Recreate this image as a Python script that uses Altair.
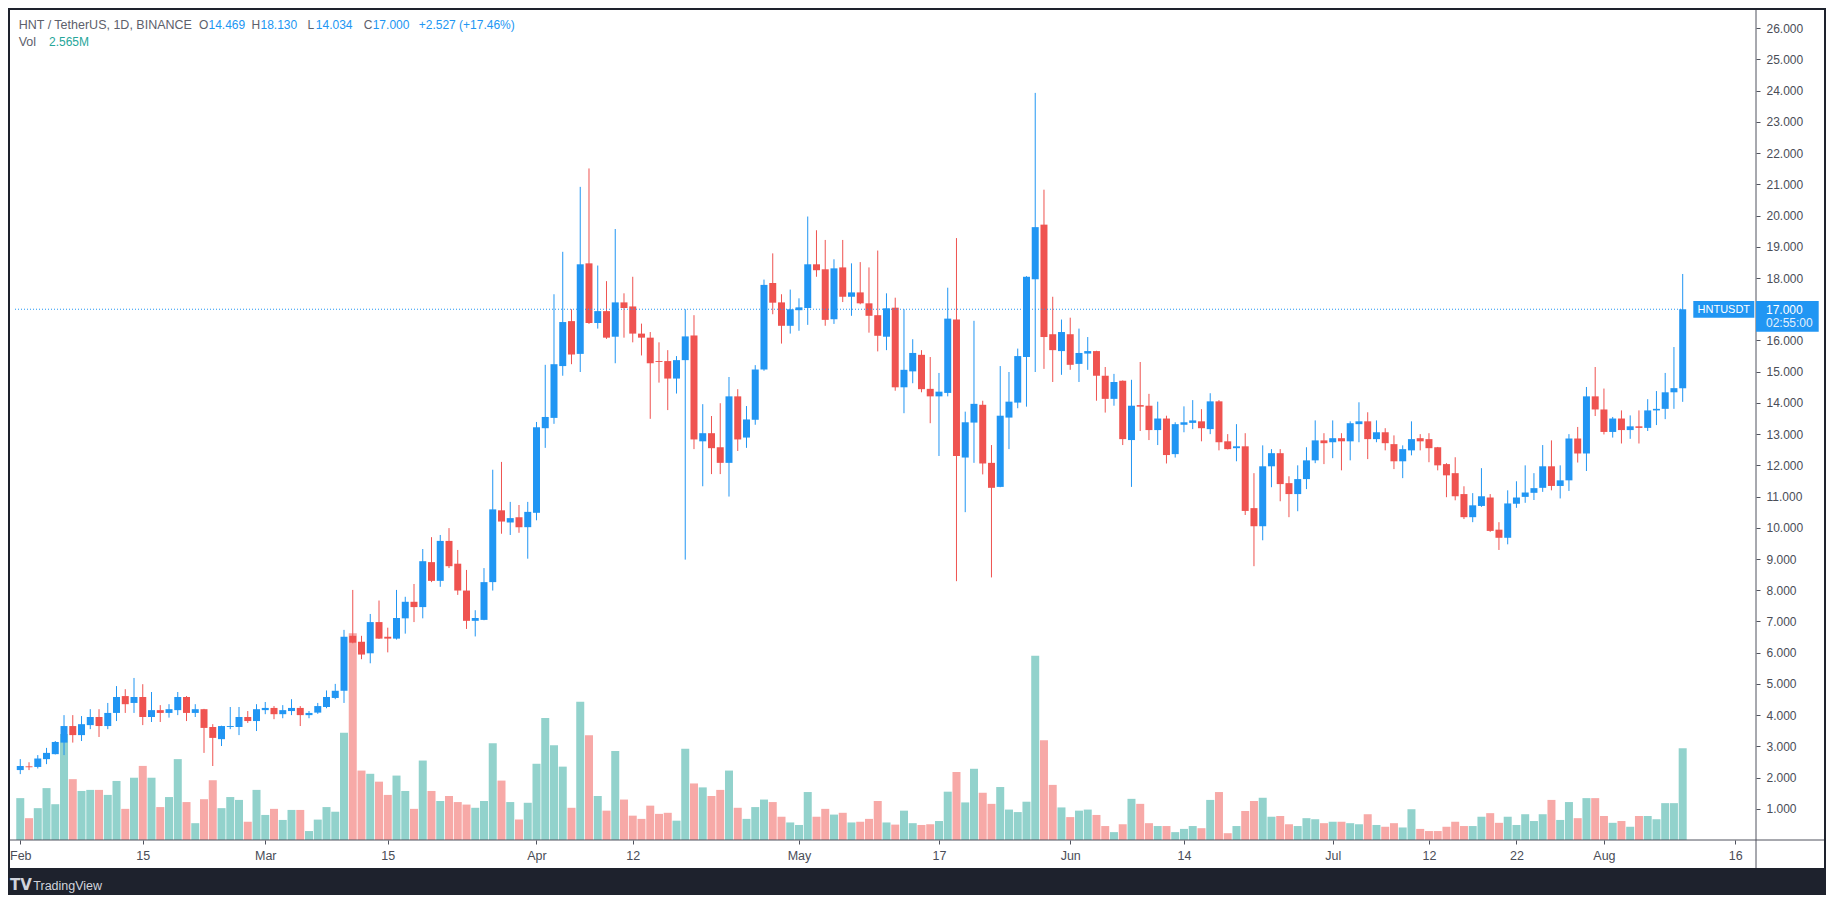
import altair as alt
import numpy as np
import pandas as pd

# ---------------- data ----------------
open_feb = [2.24, 2.36, 2.34, 2.59, 2.75, 3.12, 3.65, 3.36, 3.68, 3.94, 3.65, 4.07, 4.61, 4.39, 4.58, 3.94, 4.16, 4.07, 4.16, 4.58, 4.07, 4.19, 3.62, 3.23, 3.62, 3.62, 3.94, 3.81]
high_feb = [2.59, 2.49, 2.72, 2.95, 3.17, 4.00, 4.00, 3.97, 4.19, 4.19, 4.39, 4.93, 4.83, 5.19, 4.99, 4.74, 4.32, 4.35, 4.74, 4.61, 4.35, 4.20, 3.71, 3.66, 4.26, 4.26, 4.13, 4.35]
low_feb = [2.11, 2.24, 2.29, 2.43, 2.74, 2.72, 3.12, 3.17, 3.55, 3.30, 3.55, 3.81, 4.07, 4.07, 3.68, 3.78, 3.78, 3.92, 4.00, 3.81, 3.94, 2.79, 2.37, 3.01, 3.55, 3.36, 3.75, 3.49]
close_feb = [2.37, 2.33, 2.61, 2.79, 3.14, 3.65, 3.36, 3.71, 3.94, 3.65, 4.07, 4.58, 4.35, 4.58, 3.94, 4.16, 4.07, 4.19, 4.58, 4.07, 4.19, 3.59, 3.27, 3.65, 3.65, 3.94, 3.81, 4.19]

open_mar = [4.16, 4.23, 4.03, 4.13, 4.23, 4.00, 4.08, 4.26, 4.55, 4.78, 6.54, 6.35, 5.98, 6.98, 6.51, 6.45, 7.10, 7.63, 7.46, 8.90, 8.30, 9.58, 8.85, 7.99, 7.02, 7.05, 8.26, 10.56, 10.17, 10.34, 10.02]
high_mar = [4.42, 4.29, 4.32, 4.51, 4.29, 4.13, 4.39, 4.79, 5.00, 6.73, 8.01, 6.54, 7.24, 7.67, 6.80, 8.01, 7.79, 8.20, 9.32, 9.70, 9.77, 9.99, 9.29, 8.65, 7.36, 8.71, 11.86, 12.11, 10.83, 10.73, 10.83]
low_mar = [4.03, 3.87, 3.90, 4.00, 3.65, 3.90, 4.04, 4.22, 4.51, 4.39, 6.30, 5.79, 5.66, 6.44, 6.01, 6.42, 6.61, 6.98, 7.10, 8.26, 8.11, 8.71, 7.85, 6.76, 6.52, 7.04, 7.99, 9.81, 9.77, 9.84, 9.01]
close_mar = [4.23, 4.03, 4.16, 4.23, 4.00, 4.07, 4.29, 4.58, 4.78, 6.51, 6.32, 5.94, 6.98, 6.45, 6.45, 7.11, 7.63, 7.46, 8.93, 8.30, 9.58, 8.77, 7.99, 7.02, 7.11, 8.26, 10.59, 10.20, 10.31, 10.02, 10.51]

open_apr = [10.48, 13.19, 13.52, 15.18, 16.62, 15.57, 18.47, 16.56, 16.94, 16.12, 17.22, 17.09, 16.22, 16.09, 15.34, 15.34, 14.78, 15.37, 16.16, 12.77, 13.03, 12.58, 12.08, 14.21, 12.89, 13.46, 15.07, 17.84, 17.22, 16.47]
high_apr = [13.39, 15.22, 17.48, 18.84, 17.00, 20.92, 21.51, 18.40, 17.90, 19.57, 17.51, 18.04, 16.54, 16.27, 15.94, 15.69, 15.50, 17.00, 16.81, 13.96, 13.58, 13.99, 14.83, 14.44, 13.90, 15.21, 17.95, 18.79, 17.48, 17.63]
low_apr = [10.24, 12.56, 13.33, 14.87, 15.24, 14.99, 16.53, 16.38, 16.05, 15.27, 16.09, 15.94, 15.52, 13.49, 14.65, 13.77, 14.30, 8.98, 12.52, 11.33, 11.72, 11.72, 11.00, 12.46, 12.56, 13.30, 15.03, 16.84, 15.90, 16.22]
close_apr = [13.22, 13.55, 15.24, 16.59, 15.55, 18.44, 16.56, 16.94, 16.09, 17.22, 17.04, 16.22, 16.09, 15.27, 15.31, 14.78, 15.37, 16.13, 12.83, 13.03, 12.55, 12.08, 14.21, 12.83, 13.47, 15.07, 17.78, 17.21, 16.47, 17.00]

open_may = [16.97, 17.04, 18.44, 18.28, 16.68, 18.34, 17.40, 17.54, 17.19, 16.81, 16.12, 17.05, 14.50, 15.01, 15.54, 14.45, 14.21, 14.32, 16.67, 12.25, 13.37, 13.94, 12.08, 11.31, 13.53, 14.01, 15.47, 17.96, 19.71, 16.20, 15.66]
high_may = [17.35, 19.97, 19.53, 19.22, 18.60, 19.22, 18.47, 18.51, 18.34, 18.88, 17.51, 17.37, 17.00, 16.04, 15.69, 15.47, 14.96, 17.69, 19.28, 13.72, 16.63, 14.07, 12.65, 15.18, 14.99, 15.74, 18.06, 23.93, 20.83, 17.40, 16.67]
low_may = [16.31, 16.50, 18.04, 16.47, 16.53, 17.23, 16.79, 17.16, 16.25, 15.65, 15.69, 14.39, 13.67, 14.63, 14.34, 13.35, 12.30, 14.21, 8.29, 10.50, 12.08, 11.71, 8.41, 11.30, 12.52, 13.83, 13.88, 14.99, 15.09, 14.67, 14.90]
close_may = [17.06, 18.44, 18.25, 16.66, 18.31, 17.40, 17.54, 17.19, 16.79, 16.15, 17.03, 14.50, 15.06, 15.60, 14.44, 14.21, 14.36, 16.70, 12.30, 13.38, 13.97, 12.06, 11.28, 13.59, 14.04, 15.50, 18.04, 19.63, 16.11, 15.69, 16.27]

open_jun = [16.20, 15.25, 15.58, 15.66, 14.87, 14.13, 14.71, 12.81, 13.93, 13.91, 13.13, 13.50, 12.36, 13.30, 13.36, 13.41, 13.16, 14.05, 12.77, 12.55, 12.61, 10.63, 10.05, 11.97, 12.39, 11.43, 11.08, 11.56, 12.16, 12.80]
high_jun = [16.73, 16.38, 16.11, 15.67, 15.15, 14.93, 14.72, 14.74, 15.31, 14.29, 14.04, 13.59, 13.38, 13.89, 14.09, 13.80, 14.31, 14.09, 13.00, 13.32, 13.03, 11.75, 12.64, 12.52, 12.52, 11.65, 12.00, 12.58, 13.44, 13.03]
low_jun = [15.06, 14.67, 15.06, 14.07, 13.69, 13.91, 12.65, 11.31, 13.10, 12.81, 12.65, 12.06, 12.25, 13.06, 13.16, 12.77, 13.00, 12.48, 12.51, 12.13, 10.41, 8.77, 9.60, 11.30, 10.85, 10.34, 10.53, 11.24, 12.07, 12.04]
close_jun = [15.22, 15.60, 15.66, 14.87, 14.13, 14.67, 12.84, 13.91, 13.88, 13.13, 13.50, 12.33, 13.32, 13.38, 13.44, 13.19, 14.05, 12.74, 12.52, 12.61, 10.54, 10.05, 11.97, 12.39, 11.40, 11.08, 11.56, 12.16, 12.80, 12.71]

open_jul = [12.74, 12.87, 12.77, 13.32, 13.41, 12.84, 13.06, 12.68, 12.13, 12.48, 12.87, 12.84, 12.58, 12.04, 11.75, 11.08, 10.34, 10.70, 10.97, 9.94, 9.68, 10.77, 10.99, 11.12, 11.28, 11.97, 11.34, 11.52, 12.86, 12.38, 14.21]
high_jul = [13.44, 13.03, 13.41, 14.02, 13.70, 13.44, 13.19, 12.96, 12.64, 13.41, 13.00, 13.03, 12.59, 12.07, 12.26, 11.33, 11.11, 11.91, 11.08, 10.18, 11.20, 11.49, 12.00, 11.75, 12.65, 12.80, 12.00, 13.00, 13.23, 14.51, 15.15]
low_jul = [12.23, 11.84, 12.16, 12.74, 12.20, 12.74, 12.48, 11.88, 11.59, 12.32, 12.48, 12.10, 11.84, 10.98, 10.88, 10.28, 10.18, 10.67, 9.87, 9.29, 9.47, 10.64, 10.80, 10.89, 11.15, 11.20, 10.94, 11.18, 12.09, 11.82, 13.58]
close_jul = [12.87, 12.77, 13.35, 13.41, 12.84, 13.06, 12.71, 12.13, 12.52, 12.84, 12.77, 12.55, 12.00, 11.68, 11.01, 10.34, 10.72, 11.01, 9.90, 9.68, 10.78, 10.97, 11.13, 11.27, 11.97, 11.34, 11.52, 12.86, 12.38, 14.21, 13.79]

open_aug = [13.79, 13.07, 13.50, 13.13, 13.25, 13.20, 13.76, 13.81, 14.34, 14.469]
high_aug = [14.46, 13.55, 13.76, 13.60, 13.76, 14.12, 14.38, 14.96, 15.79, 18.130]
low_aug = [12.99, 12.89, 12.70, 12.85, 12.70, 13.10, 13.29, 13.48, 13.81, 14.034]
close_aug = [13.07, 13.50, 13.13, 13.25, 13.20, 13.76, 13.81, 14.34, 14.473, 17.000]

# volume in millions
vol_feb = [1.17, 0.61, 0.89, 1.45, 1.00, 2.96, 1.70, 1.37, 1.40, 1.40, 1.26, 1.65, 0.87, 1.74, 2.07, 1.74, 0.92, 1.20, 2.26, 1.06, 0.47, 1.14, 1.67, 0.89, 1.20, 1.12, 0.51, 1.40]
vol_mar = [0.70, 0.87, 0.56, 0.84, 0.84, 0.25, 0.57, 0.92, 0.79, 3.00, 5.78, 1.94, 1.85, 1.63, 1.26, 1.80, 1.37, 0.87, 2.22, 1.37, 1.09, 1.23, 1.06, 0.99, 0.90, 1.09, 2.70, 1.66, 1.06, 0.57, 1.04]
vol_apr = [2.13, 3.41, 2.65, 2.05, 0.90, 3.86, 2.93, 1.23, 0.82, 2.49, 1.13, 0.68, 0.59, 0.96, 0.73, 0.76, 0.54, 2.55, 1.58, 1.47, 1.23, 1.40, 1.94, 0.90, 0.59, 0.92, 1.13, 1.06, 0.65, 0.49]
vol_may = [0.42, 1.34, 0.65, 0.87, 0.71, 0.76, 0.49, 0.51, 0.59, 1.09, 0.49, 0.43, 0.82, 0.47, 0.42, 0.44, 0.53, 1.35, 1.90, 1.05, 1.99, 1.32, 1.01, 1.48, 0.85, 0.78, 1.07, 5.15, 2.79, 1.54, 0.91]
vol_jun = [0.64, 0.82, 0.85, 0.70, 0.39, 0.22, 0.44, 1.15, 1.01, 0.47, 0.39, 0.39, 0.22, 0.31, 0.39, 0.33, 1.12, 1.34, 0.19, 0.39, 0.81, 1.09, 1.18, 0.65, 0.67, 0.44, 0.39, 0.61, 0.58, 0.47]
vol_jul = [0.51, 0.51, 0.47, 0.44, 0.72, 0.42, 0.37, 0.47, 0.35, 0.86, 0.31, 0.25, 0.25, 0.37, 0.51, 0.39, 0.39, 0.65, 0.75, 0.48, 0.65, 0.42, 0.72, 0.53, 0.72, 1.12, 0.56, 1.06, 0.61, 1.17, 1.17]
vol_aug = [0.67, 0.48, 0.53, 0.37, 0.67, 0.67, 0.58, 1.03, 1.03, 2.565]

x_tick_dates = ["2021-02-01", "2021-02-15", "2021-03-01", "2021-03-15", "2021-04-01", "2021-04-12",
                "2021-05-01", "2021-05-17", "2021-06-01", "2021-06-14", "2021-07-01", "2021-07-12",
                "2021-07-22", "2021-08-01", "2021-08-16"]
price_ticks = list(range(1, 27))

opens = open_feb + open_mar + open_apr + open_may + open_jun + open_jul + open_aug
highs = high_feb + high_mar + high_apr + high_may + high_jun + high_jul + high_aug
lows = low_feb + low_mar + low_apr + low_may + low_jun + low_jul + low_aug
closes = close_feb + close_mar + close_apr + close_may + close_jun + close_jul + close_aug
vols = vol_feb + vol_mar + vol_apr + vol_may + vol_jun + vol_jul + vol_aug

# ---------------- style / layout ----------------
UP, DOWN = "#2196f3", "#ef5350"
VOL_UP, VOL_DOWN = "#92d2cc", "#f7a9a7"
FRAME = "#1e222d"
AXIS_COL = "#50535e"
LABEL_COL = "#4a4d57"
HDR_GRAY = "#5d606b"
FONT = "Liberation Sans"

W, H = 1746, 830
PRICE_MAX = 26.585
VOL_MAX = 23.19
PX_PER_DAY = 8.8
FIRST_DAY_PX = 5.3

dates = pd.date_range("2021-02-01", periods=len(opens), freq="D")
df = pd.DataFrame({"date": dates.strftime("%Y-%m-%d"), "open": opens, "high": highs,
                   "low": lows, "close": closes, "volume": vols})
up = df["close"] >= df["open"]
df["ccol"] = np.where(up, UP, DOWN)
df["vcol"] = np.where(up, VOL_UP, VOL_DOWN)


def ms(t):
    return int(pd.Timestamp(t).value // 10**6)


t0 = dates[0] - pd.Timedelta(days=FIRST_DAY_PX / PX_PER_DAY)
t1 = t0 + pd.Timedelta(days=W / PX_PER_DAY)

x_scale = alt.Scale(type="utc", domain=[ms(t0), ms(t1)])
y_scale = alt.Scale(domain=[0, PRICE_MAX], nice=False, zero=False)
v_scale = alt.Scale(domain=[0, VOL_MAX], nice=False)

last = df.iloc[-1]
prev_close = df.iloc[-2]["close"]
chg = last["close"] - prev_close
pct = chg / prev_close * 100

x_axis = alt.Axis(values=[ms(d) for d in x_tick_dates],
                  labelExpr="utcdate(datum.value) == 1 ? utcFormat(datum.value, '%b') : utcFormat(datum.value, '%-d')",
                  domain=False, grid=False, tickSize=4, tickColor=AXIS_COL, labelColor=LABEL_COL,
                  labelFont=FONT, labelFontSize=12.5, labelPadding=5, labelFlush=False,
                  labelOverlap=False, title="")
y_axis = alt.Axis(orient="right", values=[v for v in price_ticks if v != round(last["close"])],
                  format=".3f", domain=False, grid=False, tickSize=4, tickColor=AXIS_COL,
                  labelColor=LABEL_COL, labelFont=FONT, labelFontSize=12, labelPadding=6,
                  labelOverlap=False, title="")

X = alt.X("date:T", scale=x_scale, axis=x_axis)
base = alt.Chart(df)

vol = base.mark_bar(size=8).encode(
    x=X, y=alt.Y("volume:Q", scale=v_scale, axis=None), color=alt.Color("vcol:N", scale=None))

wick = base.mark_rule(strokeWidth=1).encode(
    x=X, y=alt.Y("low:Q", scale=y_scale, axis=y_axis), y2="high:Q", color=alt.Color("ccol:N", scale=None))
body = base.mark_bar(size=7).encode(
    x=X, y=alt.Y("open:Q", scale=y_scale, axis=y_axis), y2="close:Q", color=alt.Color("ccol:N", scale=None))

line_df = pd.DataFrame({"x0": [ms(t0)], "x1": [ms(dates[-1])], "close": [last["close"]]})
last_line = alt.Chart(line_df).mark_rule(color=UP, strokeWidth=1, strokeDash=[1, 2]).encode(
    x=alt.X("x0:T", scale=x_scale, axis=x_axis), x2="x1:T", y=alt.Y("close:Q", scale=y_scale, axis=y_axis))

price = alt.layer(wick, body, last_line)

one = pd.DataFrame({"k": [0]})


def rect(x, x2, y, y2, color):
    return alt.Chart(one).mark_rect(color=color).encode(
        x=alt.value(x), x2=alt.value(x2), y=alt.value(y), y2=alt.value(y2))


def rule(x, x2, y, y2, color):
    return alt.Chart(one).mark_rule(color=color, strokeWidth=1).encode(
        x=alt.value(x), x2=alt.value(x2), y=alt.value(y), y2=alt.value(y2))


def text(s, x, y, color, size=12, font=FONT, align="left", baseline="alphabetic", weight="normal"):
    return alt.Chart(one).mark_text(align=align, baseline=baseline, font=font, fontSize=size,
                                    color=color, fontWeight=weight).encode(
        x=alt.value(x), y=alt.value(y), text=alt.value(s))


ypx = H - last["close"] / PRICE_MAX * H
L1, L2 = 19.0, 36.3

overlays = [
    rule(W, W, 0, 858, AXIS_COL),
    rule(0, 1814, H, H, AXIS_COL),
    rect(1683.3, 1744.3, ypx - 8.25, ypx + 8.5, UP),
    rect(W, 1808.7, ypx - 8.25, ypx + 22.5, UP),
    text("HNTUSDT", 1713.8, ypx + 0.5, "white", 11, FONT, "center", "middle"),
    text(f"{last['close']:.3f}", 1756, ypx + 0.5, "white", 12, FONT, "left", "middle"),
    text("02:55:00", 1756, ypx + 14, "#e3f0fd", 12, FONT, "left", "middle"),
    # header
    text("HNT / TetherUS, 1D, BINANCE", 8.7, L1, HDR_GRAY, 12.5),
    text("O", 189, L1, HDR_GRAY), text(f"{last['open']:.3f}", 198.5, L1, UP),
    text("H", 241.5, L1, HDR_GRAY), text(f"{last['high']:.3f}", 250.5, L1, UP),
    text("L", 297.6, L1, HDR_GRAY), text(f"{last['low']:.3f}", 305.8, L1, UP),
    text("C", 353.7, L1, HDR_GRAY), text(f"{last['close']:.3f}", 362.7, L1, UP),
    text(f"{chg:+.3f} ({pct:+.2f}%)", 408.7, L1, UP),
    text("Vol", 8.7, L2, HDR_GRAY, 12.5), text(f"{last['volume']:.3f}M", 39, L2, "#26a69a"),
    # dark frame
    rect(-2, 1816, 858, 885, FRAME),
    rect(1814, 1816, -2, 885, FRAME),
    rect(-2, 0, -2, 885, FRAME),
    rect(-2, 1816, -2, 0, FRAME),
    text("TV", 0, 880, "#d1d4dc", 15, "DejaVu Sans", "left", "alphabetic", "bold"),
    text("TradingView", 23.3, 880, "#d1d4dc", 12.5, FONT),
]

chart = alt.layer(vol, price, *overlays).resolve_scale(y="independent").properties(
    width=W, height=H,
    padding={"left": 2, "top": 2, "right": 70, "bottom": 55},
    autosize=alt.AutoSizeParams(type="none"),
    background="white",
).configure_view(fill="white", strokeWidth=0)

chart.save("out.html", embed_options={"renderer": "svg", "actions": False})
